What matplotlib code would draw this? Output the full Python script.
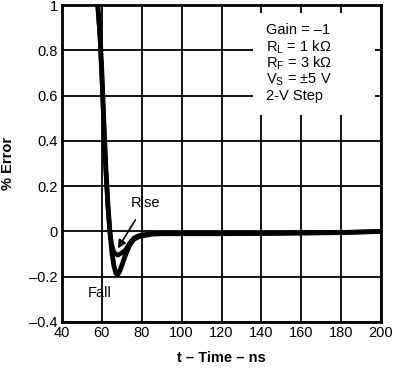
import matplotlib.pyplot as plt
from matplotlib.patches import Rectangle
import numpy as np

plt.rcParams['font.family'] = ['Liberation Sans', 'DejaVu Sans']
plt.rcParams['mathtext.fontset'] = 'custom'
plt.rcParams['mathtext.rm'] = 'Liberation Sans'

# Data (t in ns, error in %)
t_fall = [57.5, 59, 60, 61, 62, 63, 64, 65, 66, 67, 68, 69, 70, 72, 74, 76, 78, 80, 85, 90, 100, 120, 150, 180, 200]
err_fall = [1.05, 0.88, 0.70, 0.48, 0.28, 0.12, 0.0, -0.09, -0.15, -0.185, -0.19, -0.175, -0.15, -0.10, -0.06, -0.035, -0.025, -0.02, -0.012, -0.01, -0.01, -0.01, -0.008, -0.005, 0.0]

t_rise = [57.5, 59, 60, 61, 62, 63, 64, 65, 66, 67, 68, 69, 70, 72, 74, 76, 78, 80, 85, 90, 100, 120, 150, 180, 200]
err_rise = [1.05, 0.86, 0.68, 0.46, 0.27, 0.11, 0.0, -0.06, -0.09, -0.10, -0.105, -0.10, -0.095, -0.08, -0.05, -0.03, -0.02, -0.015, -0.01, -0.008, -0.01, -0.01, -0.008, -0.005, 0.0]

legend_lines = ['Gain = \u20131',
                'R$_\\mathregular{L}$ = 1 k\u03a9',
                'R$_\\mathregular{F}$ = 3 k\u03a9',
                'V$_\\mathregular{S}$ = \u00b15 V',
                '2-V Step']

xticks = np.arange(40, 201, 20)
yticks = np.round(np.arange(-0.4, 1.01, 0.2), 1)

fig = plt.figure(figsize=(4, 3.69), dpi=100)
ax = fig.add_axes([0.155, 0.1274, 0.7975, 0.8590])

ax.set_xlim(40, 200)
ax.set_ylim(-0.4, 1.0)
ax.set_xticks(xticks)
ax.set_yticks(yticks)
ax.set_xticklabels([str(v) for v in xticks])
ax.set_yticklabels([('%g' % v).replace('-', '\u2013') for v in yticks])
ax.tick_params(length=0, labelsize=10.5, pad=3)
ax.grid(True, color='black', linewidth=1.3, zorder=0)
ax.set_axisbelow(True)
for s in ax.spines.values():
    s.set_linewidth(2)

ax.plot(t_fall, err_fall, color='black', linewidth=3.5, solid_joinstyle='round', zorder=3)
ax.plot(t_rise, err_rise, color='black', linewidth=3.2, solid_joinstyle='round', zorder=3)

# white box behind the conditions text
ax.add_patch(Rectangle((0.6, 0.653), 0.38, 0.322, transform=ax.transAxes,
                       facecolor='white', edgecolor='none', zorder=2))
for i, line in enumerate(legend_lines):
    ax.text(0.64, 0.92 - i * 0.052, line, transform=ax.transAxes,
            fontsize=10.5, va='center', ha='left', zorder=4)

ax.annotate('Rise', xy=(68, -0.075), xytext=(82, 0.125), fontsize=10.5,
            ha='center', va='center', zorder=5,
            arrowprops=dict(arrowstyle='-|>', color='black', lw=1.2,
                            shrinkA=6, shrinkB=0, mutation_scale=12))
ax.text(59, -0.272, 'Fall', fontsize=10.5, ha='center', va='center', zorder=5)

ax.set_xlabel('t \u2013 Time \u2013 ns', fontsize=10.5, fontweight='bold', labelpad=8)
ax.set_ylabel('% Error', fontsize=10.5, fontweight='bold', labelpad=10)

fig.savefig('out.png', dpi=100)
